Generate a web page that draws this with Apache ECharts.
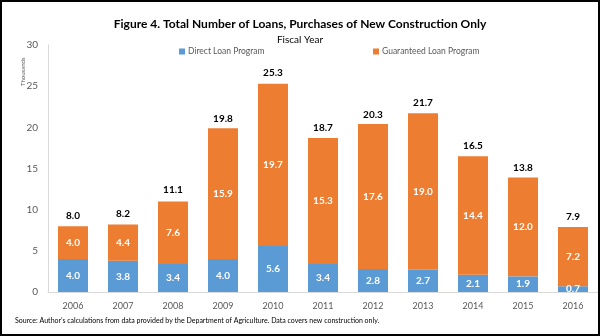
<!DOCTYPE html>
<html><head><meta charset="utf-8">
<script src="https://cdn.jsdelivr.net/npm/echarts@6/dist/echarts.min.js"></script>
<style>html,body{margin:0;padding:0;background:#fff}#c{width:600px;height:336px}</style>
</head><body><div id="c"></div>
<script>
const years=['2006','2007','2008','2009','2010','2011','2012','2013','2014','2015','2016'];
const direct=[4.0,3.8,3.4,4.0,5.6,3.4,2.8,2.7,2.1,1.9,0.7];
const guaranteed=[4.0,4.4,7.6,15.9,19.7,15.3,17.6,19.0,14.4,12.0,7.2];
const totals=[8.0,8.2,11.1,19.8,25.3,18.7,20.3,21.7,16.5,13.8,7.9];
const yTicks=[0,5,10,15,20,25,30];
const font="Lato";
const chart=echarts.init(document.getElementById('c'));
const inLabel={show:true,position:'inside',color:'#fff',fontWeight:'bold',fontSize:10,fontFamily:font,formatter:p=>p.value.toFixed(1)};
chart.setOption({
  animation:false,
  graphic:[
    {type:'rect',shape:{x:1,y:1,width:598,height:334},style:{fill:'none',stroke:'#000',lineWidth:2},z:100},
    {type:'text',x:20,y:86,rotation:Math.PI/2,style:{text:'Thousands',fontSize:6,fill:'#595959',fontFamily:font,textAlign:'left',textVerticalAlign:'top'}}
  ],
  title:[{text:'Figure 4. Total Number of Loans, Purchases of New Construction Only',left:'center',top:13,textStyle:{fontSize:12,fontWeight:'bold',color:'#000',fontFamily:font}},
    {text:'Fiscal Year',left:'center',top:30,textStyle:{fontSize:10,fontWeight:'normal',color:'#000',fontFamily:font}},
    {text:'Source: Author\u2019s calculations from data provided by the Department of Agriculture. Data covers new construction only.',left:10,top:312,textStyle:{fontSize:7,fontWeight:'normal',color:'#000',fontFamily:font}}],
  legend:[{data:['Direct Loan Program'],left:174,top:42,itemWidth:6,itemHeight:6,itemGap:4,icon:'rect',textStyle:{fontSize:8.5,color:'#595959',fontFamily:font,padding:[0,0,0,-2]}},
    {data:['Guaranteed Loan Program'],left:368,top:42,itemWidth:6,itemHeight:6,icon:'rect',textStyle:{fontSize:8.5,color:'#595959',fontFamily:font,padding:[0,0,0,-2]}}],
  grid:{left:48,right:2,top:45,bottom:44,containLabel:false},
  xAxis:{type:'category',data:years,axisTick:{show:false},axisLine:{lineStyle:{color:'#d9d9d9'}},axisLabel:{fontSize:9,color:'#595959',fontFamily:font,margin:10}},
  yAxis:{type:'value',min:0,max:30,interval:5,
    axisLine:{show:true,lineStyle:{color:'#d9d9d9'}},axisTick:{show:false},splitLine:{show:false},
    axisLabel:{fontSize:10,color:'#595959',fontFamily:font,margin:10,formatter:v=>yTicks.includes(v)?String(v):''}},
  series:[
    {name:'Direct Loan Program',type:'bar',stack:'s',data:direct,barWidth:30,itemStyle:{color:'#5B9BD5'},label:inLabel},
    {name:'Guaranteed Loan Program',type:'bar',stack:'s',data:guaranteed,barWidth:30,itemStyle:{color:'#ED7D31'},label:inLabel},
    {name:'Total',type:'line',data:totals,symbol:'circle',symbolSize:1,showSymbol:true,silent:true,itemStyle:{color:'rgba(0,0,0,0)'},lineStyle:{width:0,color:'rgba(0,0,0,0)'},label:{show:true,position:'top',distance:5,color:'#000',fontWeight:'bold',fontSize:10,fontFamily:font,formatter:p=>p.value.toFixed(1)},z:5}
  ]
});
</script></body></html>
